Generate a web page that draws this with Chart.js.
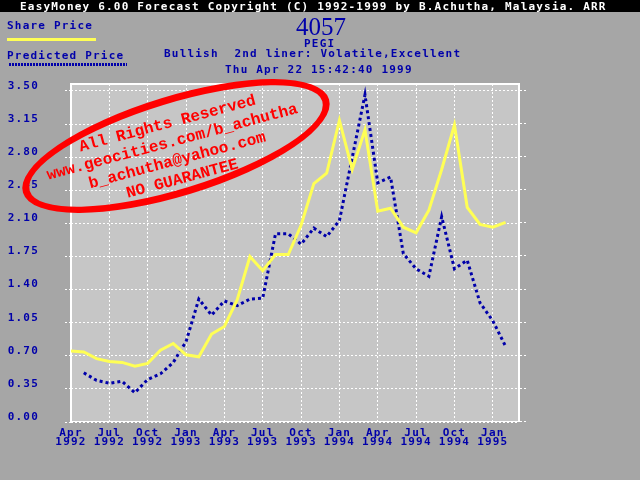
<!DOCTYPE html>
<html>
<head>
<meta charset="utf-8">
<title>PEGI 4057</title>
<script src="https://cdn.jsdelivr.net/npm/chart.js@4.4.1/dist/chart.umd.min.js"></script>
<style>
    html, body { margin: 0; padding: 0; background: #a6a6a6; }
    #wrap {
        position: relative; width: 640px; height: 480px; overflow: hidden;
        font-family: "DejaVu Sans Mono", monospace; font-weight: bold;
        font-size: 11px; letter-spacing: 1.2px; color: #0000aa;
    }
    #chart { position: absolute; left: 0; top: 0; }
    .txt { position: absolute; white-space: pre; line-height: 11px; }
    #titlebar { position: absolute; left: 0; top: 0; width: 640px; height: 12px; background: #000; }
    #titlebar span { position: absolute; left: 20px; top: 1px; color: #fff; white-space: pre; line-height: 11px; }
    #code { font-family: "Liberation Serif", serif; font-weight: normal; font-size: 25px; line-height: 25px; letter-spacing: 0; }
    .sample-share { position: absolute; left: 7px; top: 38px; width: 89px; height: 3px; background: #ffff55; }
    .sample-pred {
        position: absolute; left: 9px; top: 63px; width: 118px; height: 3px;
        background: repeating-linear-gradient(90deg, #0000aa 0 2px, transparent 2px 3px);
    }
    #stamp-ring {
        position: absolute; left: 16px; top: 96px; width: 320px; height: 100px;
        box-sizing: border-box; border: 7px solid #ff0000; border-radius: 50%;
        transform: rotate(-17deg);
    }
    #stamp-text {
        position: absolute; left: 25px; top: 114px; width: 300px; height: 76px;
        font-family: "Liberation Mono", monospace; font-weight: bold; font-size: 16px;
        line-height: 19px; letter-spacing: 0; color: #ff0000; text-align: center;
        transform: rotate(-15deg);
    }
</style>
</head>
<body>
<div id="wrap">
    <canvas id="chart" width="640" height="480"></canvas>
    <div id="titlebar"><span>EasyMoney 6.00 Forecast Copyright (C) 1992-1999 by B.Achutha, Malaysia. ARR</span></div>
    <div class="txt" style="left:7px; top:20px;">Share Price</div>
    <div class="sample-share"></div>
    <div class="txt" style="left:7px; top:50px;">Predicted Price</div>
    <div class="sample-pred"></div>
    <div class="txt" id="code" style="left:296px; top:14px;">4057</div>
    <div class="txt" style="left:304px; top:38px;">PEGI</div>
    <div class="txt" style="left:164px; top:48px;">Bullish  2nd liner: Volatile,Excellent</div>
    <div class="txt" style="left:225px; top:64px;">Thu Apr 22 15:42:40 1999</div>
    <div id="stamp-ring"></div>
    <div id="stamp-text">All Rights Reserved<br>www.geocities.com/b_achutha<br>b_achutha@yahoo.com<br>NO GUARANTEE</div>
</div>
<script>
// months counted from Apr 1992
const xTickMonths = [0, 3, 6, 9, 12, 15, 18, 21, 24, 27, 30, 33];
const xTickLabels = ['Apr 1992', 'Jul 1992', 'Oct 1992', 'Jan 1993', 'Apr 1993', 'Jul 1993',
    'Oct 1993', 'Jan 1994', 'Apr 1994', 'Jul 1994', 'Oct 1994', 'Jan 1995'];
const yTickValues = [0, 0.35, 0.70, 1.05, 1.40, 1.75, 2.10, 2.45, 2.80, 3.15, 3.50];

const shareMonths = [0, 1, 2, 3, 4, 5, 6, 7, 8, 9, 10, 11, 12, 13, 14, 15, 16, 17, 18, 19,
    20, 21, 22, 23, 24, 25, 26, 27, 28, 29, 30, 31, 32, 33, 34];
const sharePrice = [0.75, 0.74, 0.67, 0.64, 0.63, 0.59, 0.62, 0.76, 0.83, 0.71, 0.69, 0.93,
    1.01, 1.29, 1.75, 1.60, 1.77, 1.77, 2.08, 2.52, 2.63, 3.19, 2.67, 3.09, 2.23, 2.26,
    2.06, 2.00, 2.24, 2.67, 3.14, 2.27, 2.09, 2.06, 2.11];

const predictedMonths = [1, 2, 3, 4, 5, 6, 7, 8, 9, 10, 11, 12, 13, 14, 15, 16, 17, 18, 19,
    20, 21, 23, 24, 25, 26, 27, 28, 29, 30, 31, 32, 33, 34];
const predictedPrice = [0.52, 0.44, 0.41, 0.43, 0.31, 0.45, 0.51, 0.63, 0.85, 1.30, 1.13,
    1.28, 1.23, 1.30, 1.31, 1.99, 1.99, 1.88, 2.05, 1.96, 2.13, 3.46, 2.53, 2.59, 1.78,
    1.62, 1.54, 2.17, 1.62, 1.71, 1.26, 1.07, 0.80];

const BLUE = '#0000aa';
const tickFont = { family: 'DejaVu Sans Mono', weight: 'bold', size: 11, lineHeight: '9px' };

// wide pixel-font look for the axis labels
const spacingPlugin = {
    id: 'spacing',
    beforeUpdate(chart) { chart.ctx.letterSpacing = '1.2px'; },
    beforeDraw(chart) { chart.ctx.letterSpacing = '1.2px'; }
};

// light plot panel, white frame and grid stubs right of the panel
const panelPlugin = {
    id: 'panel',
    beforeDraw(chart) {
        const { ctx, chartArea: a } = chart;
        ctx.save();
        ctx.fillStyle = '#c6c6c6';
        ctx.fillRect(a.left, a.top, a.right - a.left, a.bottom - a.top);
        ctx.restore();
    },
    beforeDatasetsDraw(chart) {
        const { ctx, chartArea: a, scales } = chart;
        ctx.save();
        ctx.strokeStyle = '#ffffff';
        ctx.lineWidth = 2;
        ctx.beginPath();
        ctx.moveTo(a.left, a.bottom);
        ctx.lineTo(a.left, a.top);
        ctx.lineTo(a.right, a.top);
        ctx.lineTo(a.right, a.bottom);
        ctx.stroke();
        ctx.lineWidth = 1;
        ctx.beginPath();
        ctx.moveTo(a.left, a.bottom - 0.5);
        ctx.lineTo(a.right, a.bottom - 0.5);
        ctx.stroke();
        ctx.setLineDash([2, 2]);
        yTickValues.forEach(v => {
            const y = Math.round(scales.y.getPixelForValue(v)) - 0.5;
            ctx.beginPath();
            ctx.moveTo(a.right + 1, y);
            ctx.lineTo(a.right + 9, y);
            ctx.stroke();
        });
        ctx.restore();
    }
};

const ctx = document.getElementById('chart');

new Chart(ctx, {
    type: 'line',
    data: {
        datasets: [{
            label: 'Share Price',
            data: shareMonths.map((m, i) => ({ x: m, y: sharePrice[i] })),
            borderColor: '#ffff55',
            borderWidth: 3,
            pointRadius: 0,
            tension: 0
        }, {
            label: 'Predicted Price',
            data: predictedMonths.map((m, i) => ({ x: m, y: predictedPrice[i] })),
            borderColor: BLUE,
            borderWidth: 3,
            borderDash: [3, 3],
            pointRadius: 0,
            tension: 0
        }]
    },
    options: {
        responsive: false,
        animation: false,
        layout: { padding: { top: 84, right: 121, left: 0, bottom: 0 } },
        plugins: {
            legend: { display: false },
            tooltip: { enabled: false }
        },
        scales: {
            x: {
                type: 'linear',
                min: 0,
                max: 35.05,
                afterFit: s => { s.height = 58; },
                afterBuildTicks: s => { s.ticks = xTickMonths.map(v => ({ value: v })); },
                grid: { color: '#ffffff', lineWidth: 1, drawTicks: false },
                border: { display: false, dash: [2, 2] },
                ticks: {
                    color: BLUE,
                    font: tickFont,
                    padding: 7,
                    maxRotation: 0,
                    autoSkip: false,
                    callback: (v, i) => xTickLabels[i].split(' ')
                }
            },
            y: {
                min: 0,
                max: 3.574,
                afterFit: s => { s.width = 71; },
                afterBuildTicks: s => { s.ticks = yTickValues.map(v => ({ value: v })); },
                grid: { color: '#ffffff', lineWidth: 1, tickLength: 6, tickBorderDash: [2, 2] },
                border: { display: false, dash: [2, 2] },
                ticks: {
                    color: BLUE,
                    font: tickFont,
                    padding: 26,
                    labelOffset: -5,
                    callback: v => v.toFixed(2)
                }
            }
        }
    },
    plugins: [spacingPlugin, panelPlugin]
});
</script>
</body>
</html>
